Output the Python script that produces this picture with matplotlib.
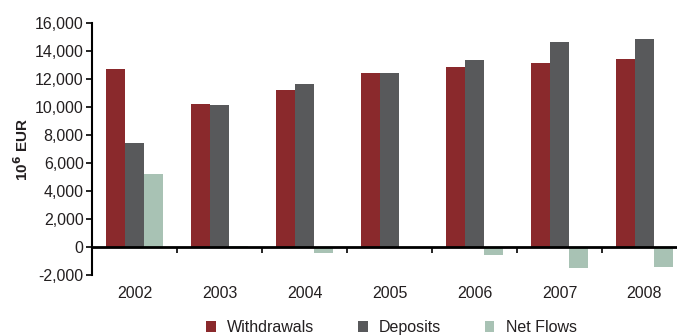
import matplotlib
matplotlib.use("Agg")
import matplotlib.pyplot as plt
import numpy as np

years = ["2002", "2003", "2004", "2005", "2006", "2007", "2008"]
withdrawals = [12700, 10200, 11200, 12450, 12850, 13150, 13450]
deposits = [7450, 10150, 11650, 12450, 13350, 14650, 14850]
net_flows = [5250, 50, -450, 0, -550, -1500, -1450]
series_names = ["Withdrawals", "Deposits", "Net Flows"]
colors = ["#8a292c", "#58595b", "#a8c2b4"]
y_ticks = list(range(-2000, 16001, 2000))

plt.rcParams["font.family"] = ["Liberation Sans", "DejaVu Sans"]
text_color = "#231f20"
fs = 11.5

fig = plt.figure(figsize=(6.77, 3.36), dpi=100)
ax = fig.add_axes([92 / 677, 61 / 336, 585 / 677, 252 / 336])

x = np.arange(len(years))
w = 0.227
handles = []
for i, (vals, name, c) in enumerate(zip([withdrawals, deposits, net_flows], series_names, colors)):
    h = ax.bar(x + (i - 1) * w, vals, width=w, color=c, label=name, linewidth=0)
    handles.append(h)

ax.set_ylim(-2000, 16000)
ax.set_xlim(-0.5, -0.5 + 585 / 85)
ax.set_yticks(y_ticks)
ax.set_yticklabels([f"{v:,}" for v in y_ticks], fontsize=fs, color=text_color)
ax.tick_params(axis="y", direction="out", length=4, width=1.2, color="black", pad=2)

ax.spines["top"].set_visible(False)
ax.spines["right"].set_visible(False)
ax.spines["left"].set_linewidth(1.5)
ax.spines["bottom"].set_position(("data", 0))
ax.spines["bottom"].set_linewidth(2)

# category boundaries as tick marks on the zero line, labels at group centres
ax.set_xticks(np.arange(0.5, len(years) - 0.5, 1.0))
ax.set_xticklabels([])
ax.tick_params(axis="x", which="major", direction="out", length=4, width=1.2)
ax.set_xticks(x, minor=True)
ax.set_xticklabels(years, minor=True, fontsize=fs, color=text_color)
ax.tick_params(axis="x", which="minor", length=0, pad=28)

ax.set_ylabel(r"10$^\mathbf{6}$ EUR", fontsize=11, fontweight="bold", color=text_color, labelpad=3)

fig.legend(handles=handles, labels=series_names, loc="lower center",
           bbox_to_anchor=(0.578, -0.04), ncol=3, frameon=False, fontsize=fs,
           handlelength=0.6, handleheight=0.6, handletextpad=0.7, columnspacing=2.75,
           labelcolor=text_color)

fig.savefig("out.png", dpi=100)
